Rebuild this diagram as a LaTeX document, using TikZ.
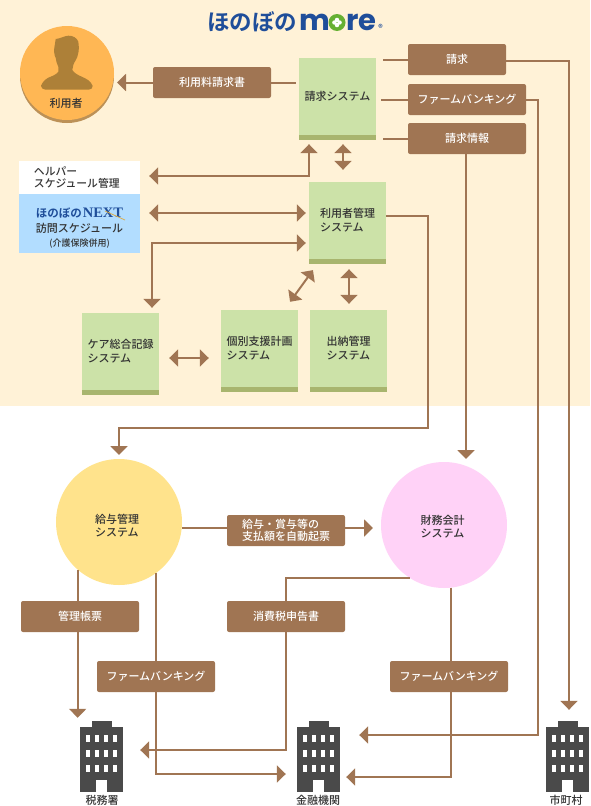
\documentclass[tikz,border=0pt]{standalone}
\usepackage{fontspec}
\setmainfont{Noto Sans CJK JP Medium}[BoldFont=Noto Sans CJK JP Bold]
\newfontfamily\logolatin{Poppins}
\newfontfamily\nextlatin{Liberation Serif}[BoldFont=Liberation Serif Bold]
\usetikzlibrary{arrows.meta,positioning,calc}

\definecolor{creamband}{HTML}{FFF2D7}
\definecolor{slipbrown}{HTML}{A07553}
\definecolor{systemgreen}{HTML}{CCE2A8}
\definecolor{stripgreen}{HTML}{A8B56E}
\definecolor{nextblue}{HTML}{B2DDFF}
\definecolor{logoblue}{HTML}{1F4E9A}
\definecolor{logogreen}{HTML}{66B032}
\definecolor{usercoin}{HTML}{FFB754}
\definecolor{coinedge}{HTML}{BC9157}
\definecolor{usershape}{HTML}{AD8038}
\definecolor{payrollyellow}{HTML}{FFE38C}
\definecolor{financepink}{HTML}{FFD2F7}
\definecolor{towergrey}{HTML}{4A4A4A}
\definecolor{inkgrey}{HTML}{333333}
\definecolor{nextgold}{HTML}{E0A93A}

\begin{document}
\begin{tikzpicture}[x=1pt,y=-1pt,
  system/.style={fill=systemgreen,minimum width=77pt,minimum height=77pt,
    inner sep=0pt,align=left,text=inkgrey,
    font=\fontsize{11}{14}\selectfont},
  slip/.style={fill=slipbrown,rounded corners=2pt,text=white,align=left,
    minimum width=118pt,minimum height=31pt,inner sep=0pt,
    font=\fontsize{11}{12}\selectfont},
  orbit/.style={circle,minimum size=126pt,inner sep=0pt,outer sep=0pt},
  orbittext/.style={align=left,inner sep=0pt,text=inkgrey,
    font=\fontsize{11}{13}\selectfont},
  tower/.style={fill=towergrey,minimum width=43pt,minimum height=65pt,
    inner sep=0pt},
  towername/.style={inner sep=0pt,text=inkgrey,font=\fontsize{11}{12}\selectfont},
  connector/.style={draw=slipbrown,line width=2pt},
  handoff/.style={connector,-{Triangle[length=9pt,width=17pt]}},
  exchange/.style={connector,{Triangle[length=9pt,width=17pt]}-{Triangle[length=9pt,width=17pt]}}
]
\useasboundingbox (0,0) rectangle (590,806);
\fill[creamband] (0,0) rectangle (590,406);

% Logo line at the head of the band.
\node[inner sep=0pt,text=logoblue,font=\fontsize{22.5}{24}\selectfont\bfseries]
  (logokana) at (252,22) {ほのぼの};
\node[inner sep=0pt,text=logoblue,font=\fontsize{29}{30}\logolatin\bfseries,anchor=base]
  (logom) at (315,30.5) {m};
\node[circle,fill=logogreen,minimum size=17pt,inner sep=0pt] (logoo) at (337,22.5) {};
\foreach \petal in {0,90,180,270}
  \fill[white] (logoo.center) ++(\petal:2.6) circle (2.2);
\node[inner sep=0pt,text=logoblue,font=\fontsize{29}{30}\logolatin\bfseries,anchor=base]
  (logore) at (361.5,30.5) {re};
\node[inner sep=0pt,text=logoblue,font=\fontsize{9}{10}\selectfont] (logomark) at (380.5,27.5) {®};

% The user coin with its silhouette.
\fill[coinedge] (67,76) circle (47);
\node[circle,fill=usercoin,minimum size=94pt,inner sep=0pt,outer sep=0pt] (user) at (67,73) {};
\fill[usershape] (55.7,39) .. controls (61,38.5) and (64,36) .. (68.3,35.7)
  .. controls (73,35.5) and (77,38) .. (78.3,41.7) .. controls (79,46) and (79,50) .. (78.3,53)
  .. controls (77.5,59) and (74,62) .. (73.3,65) -- (72.3,70)
  .. controls (74,73) and (78,75) .. (81.7,76.7) .. controls (86,78.5) and (91,81) .. (92.7,86)
  .. controls (92.5,88.5) and (91,89.5) .. (89,89.5) -- (45,89.5)
  .. controls (43,89.5) and (41,88) .. (41,85.7)
  .. controls (43,81) and (46,79) .. (48.3,77.7) .. controls (52,76) and (56,75) .. (58.3,71.7)
  -- (58.3,66.7) .. controls (57,64) and (56,61) .. (55.7,58)
  .. controls (54,55) and (54,50) .. (54.3,48) -- cycle;
\node[inner sep=0pt,text=inkgrey,font=\fontsize{11}{12}\selectfont] (username) at (66,103) {利用者};

% Systems inside the band; each gets its strip in the loop below.
\node[system] (billsys) at (337.5,96.5) {請求システム};
\node[system] (usersys) at (347.5,220.5) {利用者管理\\システム};
\node[system] (care) at (120.5,351.5) {ケア総合記録\\システム};
\node[system] (plan) at (259.5,348.5) {個別支援計画\\システム};
\node[system] (cash) at (348.5,348.5) {出納管理\\システム};
\foreach \sys in {billsys,usersys,care,plan,cash}
  \fill[stripgreen] (\sys.south west) rectangle ([yshift=-5pt]\sys.south east);

\node[fill=white,minimum width=121pt,minimum height=33pt,inner sep=0pt,text width=91pt,
  align=left,text=inkgrey,font=\fontsize{10.8}{12}\selectfont] (helper) at (79.5,177.5)
  {ヘルパー\\スケジュール管理};
\node[fill=nextblue,minimum width=121pt,minimum height=59pt,inner sep=0pt,align=center,
  text=inkgrey,font=\fontsize{11}{15.5}\selectfont] (next) at (79.5,223.5)
  {\rule{0pt}{19pt}{\color{logoblue}\fontsize{11.5}{14}\selectfont\bfseries ほのぼの\kern1pt{\nextlatin\bfseries\fontsize{14.5}{14}\selectfont NEXT}}\\[-.5pt]
   訪問スケジュール\hspace*{4pt}\\[-1.5pt]
   {\fontsize{9}{13}\selectfont (介護保険併用)}};
\draw[nextgold,line width=.7pt] (105,211) -- (125,220);

\node[slip] (fee) at (212,82.5) {利用料請求書};
\node[slip,minimum width=98pt] (invoice) at (457,59.5) {請求};
\node[slip] (firm) at (467,99.5) {ファームバンキング};
\node[slip] (info) at (467,138.5) {請求情報};

% Lower half: two circles, their slips and the three offices.
\node[orbit,fill=payrollyellow] (payroll) at (119,522) {};
\node[orbittext] (payrolltext) at (117,525.5) {給与管理\\システム};
\node[orbit,fill=financepink] (finance) at (444,525) {};
\node[orbittext] (financetext) at (442.7,526.7) {財務会計\\システム};
\node[slip] (autoslip) at (286,530.5) {給与・賞与等の\\支払額を自動起票};
\node[slip] (ledger) at (80,616.5) {管理帳票};
\node[slip] (vat) at (286,616.5) {消費税申告書};
\node[slip] (firmpay) at (156,676.5) {ファームバンキング};
\node[slip] (firmfin) at (449,676.5) {ファームバンキング};

\node[tower] (tax) at (101.5,759.5) {};
\node[tower] (bank) at (318.5,759.5) {};
\node[tower] (city) at (567.5,759.5) {};
\foreach \block in {tax,bank,city}{
  \begin{scope}[shift={(\block.center)}]
    \fill[towergrey] (-10,-38.5) rectangle (10,-32);
    \fill[white] (-5.5,20.5) rectangle (5.5,32.5);
    \foreach \col in {-13.5,-4.5,4.5,13.5}
      \foreach \row in {-21,-6,9}
        \fill[white] (\col-2.25,\row-3.6) rectangle (\col+2.25,\row+3.6);
  \end{scope}
}
\node[towername] (taxname) at (102,800.5) {税務署};
\node[towername] (bankname) at (318,800) {金融機関};
\node[towername] (cityname) at (566,800.5) {市町村};

% Band connectors.
\draw[connector,shorten >=3pt] (fee.east) -- (fee.east -| billsys.west);
\draw[handoff,shorten >=3pt] (fee.west) -- (fee.west -| user.east);
\draw[connector,shorten >=7pt] (invoice.west) -- (invoice.west -| billsys.east);
\draw[connector,shorten >=5pt] (firm.west) -- (firm.west -| billsys.east);
\draw[connector,shorten >=7pt] (info.west) -- (info.west -| billsys.east);
\draw[exchange,shorten <=9pt,shorten >=9pt] ([yshift=1.5pt]helper.east) -| ([xshift=-28.5pt]billsys.south);
\draw[exchange,shorten <=9pt,shorten >=12pt] ([xshift=5.5pt]billsys.south) -- ([xshift=-4.5pt]usersys.north);
\draw[exchange,shorten <=9pt,shorten >=3pt] ([yshift=10.5pt]next.east) -- ([yshift=10.5pt]next.east -| usersys.west);
\draw[exchange,shorten <=3pt,shorten >=5pt] ([yshift=-22.5pt]usersys.west) -| ([xshift=31.5pt]care.north);
\draw[exchange,shorten <=13.5pt,shorten >=9.9pt] ([xshift=-26.6pt]usersys.south) -- ([xshift=24.75pt]plan.north);
\draw[exchange,shorten <=10pt,shorten >=6pt] ([xshift=1.5pt]usersys.south) -- ([xshift=.5pt]cash.north);
\draw[exchange,shorten <=10pt,shorten >=12pt] ([yshift=-6.5pt]care.east) -- ([yshift=-6.5pt]care.east -| plan.west);

% Long runs from the band down to the lower half.
\coordinate (usersdrop) at (428,428);
\coordinate (firmdrop) at (538,735);
\draw[handoff,shorten >=4pt] ([yshift=4.5pt]usersys.east) -| (usersdrop) -| (payroll.north);
\draw[handoff,shorten >=3pt] ([xshift=-1pt]info.south) -- ([xshift=-1pt]info.south |- finance.north);
\draw[handoff,shorten >=17pt] ([yshift=-1.5pt]invoice.east) -| ([xshift=1.5pt]city.north);
\draw[handoff,shorten >=19pt] (firm.east) -| (firmdrop) -- (firmdrop -| bank.east);

% Lower connectors.
\draw[connector] ([yshift=-6pt]payroll.east) -- ([yshift=-6pt]payroll.east -| autoslip.west);
\draw[handoff,shorten >=8pt] ([yshift=2.5pt]autoslip.east) -- ([yshift=2.5pt]autoslip.east -| finance.west);
\draw[connector] (payroll.229) -- (payroll.229 |- ledger.north);
\draw[handoff,shorten >=9pt] (ledger.south -| payroll.229) -- (payroll.229 |- tax.north);
\draw[connector] (payroll.306) -- (payroll.306 |- firmpay.north);
\draw[handoff,shorten >=11pt] (firmpay.south -| payroll.306) |- ([yshift=-14.5pt]bank.west);
\draw[connector] (finance.237) -| (vat.north);
\draw[handoff,shorten >=17pt] (vat.south) |- ([yshift=9.5pt]tax.east);
\draw[connector] (finance.276) -- (finance.276 |- firmfin.north);
\draw[handoff,shorten >=6pt] (firmfin.south -| finance.276) |- ([yshift=-17.5pt]bank.east);
\end{tikzpicture}
\end{document}
